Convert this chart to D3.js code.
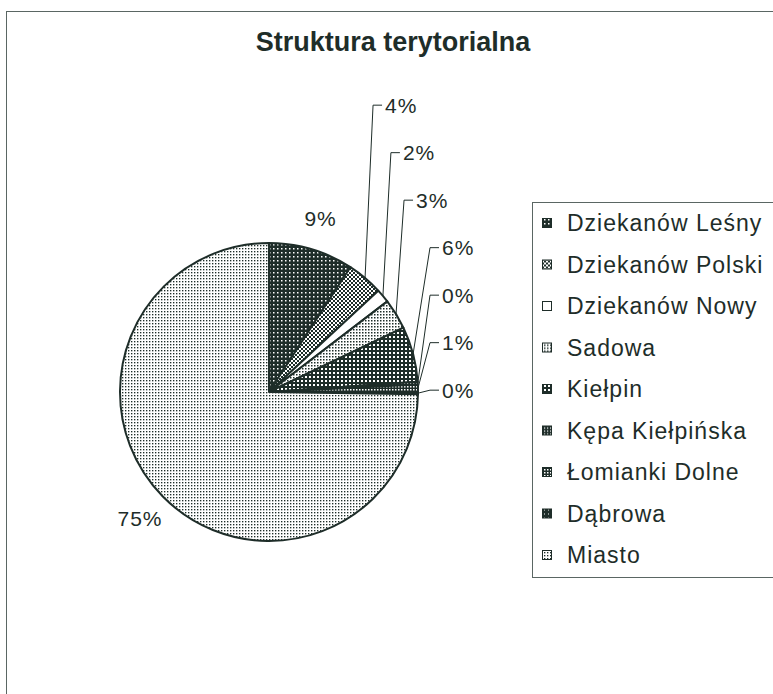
<!DOCTYPE html>
<html>
<head>
    <meta charset="utf-8" />
    <title>Struktura terytorialna</title>
    <script src="https://d3js.org/d3.v7.min.js"></script>
    <style>
        body { margin: 0; background: #fff; }
        text { font-family: "Liberation Sans", Arial, Helvetica, sans-serif; fill: #1e2d29; }
    </style>
</head>
<body>
<script>
    // data (percent of total, clockwise from 12 o'clock)
    const categories = ["Dziekanów Leśny", "Dziekanów Polski", "Dziekanów Nowy", "Sadowa", "Kiełpin",
        "Kępa Kiełpińska", "Łomianki Dolne", "Dąbrowa", "Miasto"];
    const shares = [9.2, 3.9, 1.5, 3.3, 6.0, 0.3, 0.8, 0.25, 74.75];
    const title = "Struktura terytorialna";

    // fill patterns, one per slice (bg, dot colour, tile size, dot size)
    const dark = "#1e2d29";
    const patterns = [
        { id: "p0", bg: dark, dot: "#fff", size: 4, dotSize: 1.5 },
        { id: "p1", bg: "#fff", dot: dark, size: 4, dotSize: 2, checker: true },
        { id: "p2", bg: "#fff", dot: "#fff", size: 4, dotSize: 0 },
        { id: "p3", bg: "#fff", dot: dark, size: 3, dotSize: 1.5 },
        { id: "p4", bg: dark, dot: "#fff", size: 4, dotSize: 2 },
        { id: "p5", bg: dark, dot: "#fff", size: 3, dotSize: 1.2 },
        { id: "p6", bg: dark, dot: "#fff", size: 3, dotSize: 1.5 },
        { id: "p7", bg: dark, dot: "#fff", size: 4, dotSize: 1 },
        { id: "p8", bg: "#fff", dot: dark, size: 3, dotSize: 1.35 }
    ];

    const width = 773, height = 694;
    const cx = 269, cy = 392, r = 149;

    const svg = d3.select("body").append("svg")
        .attr("width", width)
        .attr("height", height);

    const defs = svg.append("defs");
    patterns.forEach(function (p) {
        let pat = defs.append("pattern")
            .attr("id", p.id)
            .attr("patternUnits", "userSpaceOnUse")
            .attr("width", p.size)
            .attr("height", p.size);
        pat.append("rect").attr("width", p.size).attr("height", p.size).attr("fill", p.bg);
        if (p.checker) {
            pat.append("rect").attr("width", p.dotSize).attr("height", p.dotSize).attr("fill", p.dot);
            pat.append("rect").attr("x", p.dotSize).attr("y", p.dotSize)
                .attr("width", p.dotSize).attr("height", p.dotSize).attr("fill", p.dot);
        } else if (p.dotSize > 0) {
            pat.append("rect").attr("width", p.dotSize).attr("height", p.dotSize).attr("fill", p.dot);
        }
    });

    // chart frame (runs off the right and bottom of the picture)
    svg.append("rect")
        .attr("x", 6.5).attr("y", 11.5)
        .attr("width", 800).attr("height", 720)
        .attr("fill", "none")
        .attr("stroke", "#5a6663")
        .attr("stroke-width", 1);

    svg.append("text")
        .attr("x", 393).attr("y", 51)
        .attr("text-anchor", "middle")
        .style("font-size", "27px")
        .style("font-weight", "bold")
        .text(title);

    const pie = d3.pie().sort(null).value(d => d);
    const arcs = pie(shares);
    const arc = d3.arc().innerRadius(0).outerRadius(r);

    const g = svg.append("g").attr("transform", "translate(" + cx + "," + cy + ")");

    g.selectAll("path.slice")
        .data(arcs)
        .enter()
        .append("path")
        .attr("class", "slice")
        .attr("d", arc)
        .attr("fill", (d, i) => "url(#" + patterns[i].id + ")")
        .attr("stroke", dark)
        .attr("stroke-width", 2)
        .attr("stroke-linejoin", "round");

    const fmt = v => Math.round(v) + "%";
    const midAngle = d => (d.startAngle + d.endAngle) / 2;

    // big slices: label sits just outside the slice
    const outerArc = d3.arc().innerRadius(181).outerRadius(181);
    const big = arcs.filter(d => d.value >= 7);
    g.selectAll("text.big")
        .data(big)
        .enter()
        .append("text")
        .attr("class", "big")
        .attr("x", d => outerArc.centroid(d)[0])
        .attr("y", d => outerArc.centroid(d)[1])
        .attr("dy", "0.35em")
        .attr("text-anchor", "middle")
        .style("font-size", "21px")
        .style("letter-spacing", "1px")
        .text(d => fmt(d.value));

    // small slices: stacked labels on the right with leader lines
    const small = arcs.filter(d => d.value < 7);
    const step = 47.5;
    small.forEach(function (d, k) {
        let a = midAngle(d);
        let ax = r * Math.sin(a), ay = -r * Math.cos(a);
        let ly = -r * Math.cos(midAngle(small[small.length - 1])) - 3 - (small.length - 1 - k) * step;
        let ex = ax > r - 6 ? r + 12 : ax + 8;
        g.append("polyline")
            .attr("points", [[ax, ay], [ex, ly], [ex + 9, ly]].map(p => p.join(",")).join(" "))
            .attr("fill", "none")
            .attr("stroke", dark)
            .attr("stroke-width", 1);
        g.append("text")
            .attr("x", ex + 12)
            .attr("y", ly)
            .attr("dy", "0.35em")
            .style("font-size", "21px")
            .style("letter-spacing", "1px")
            .text(fmt(d.value));
    });

    // legend
    const legendX = 532, legendY = 202, rowH = 41.5;
    svg.append("rect")
        .attr("x", legendX + 0.5).attr("y", legendY + 0.5)
        .attr("width", 300).attr("height", 375)
        .attr("fill", "#fff")
        .attr("stroke", "#5a6663")
        .attr("stroke-width", 1);

    const items = svg.selectAll("g.item")
        .data(categories)
        .enter()
        .append("g")
        .attr("class", "item")
        .attr("transform", (d, i) => "translate(" + legendX + "," + (legendY + 21 + i * rowH) + ")");

    items.append("rect")
        .attr("x", 10.5).attr("y", -4.5)
        .attr("width", 9).attr("height", 9)
        .attr("fill", (d, i) => "url(#" + patterns[i].id + ")")
        .attr("stroke", dark)
        .attr("stroke-width", 1);

    items.append("text")
        .attr("x", 35)
        .attr("y", 0)
        .attr("dy", "0.35em")
        .style("font-size", "23px")
        .style("letter-spacing", "1px")
        .text(d => d);
</script>
</body>
</html>
